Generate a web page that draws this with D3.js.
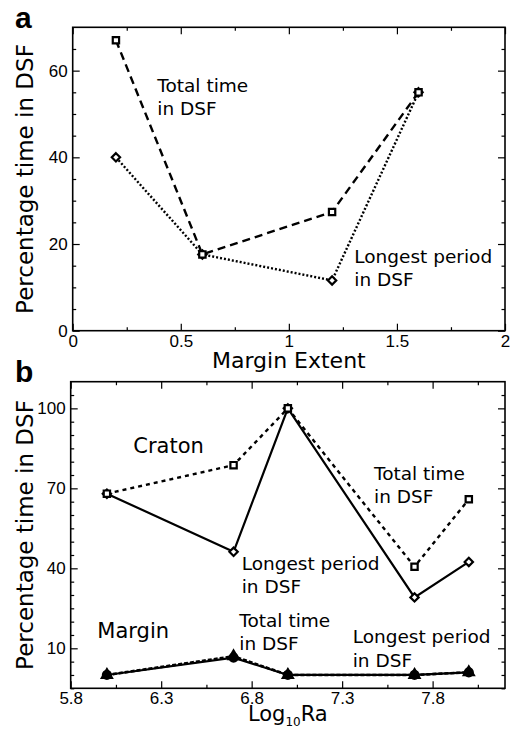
<!DOCTYPE html>
<html>
<head>
<meta charset="utf-8">
<script src="https://cdn.jsdelivr.net/npm/d3@7"></script>
<style>
	body { margin: 0; background: #fff; }
	svg { display: block; }
</style>
</head>
<body>
<script>

// panel a
const marginExtent = [0.2, 0.6, 1.2, 1.6];
const aTotal = [67, 17.6, 27.4, 55];
const aLongest = [40, 17.6, 11.6, 55];
const aXTicks = [0, 0.5, 1, 1.5, 2];
const aYTicks = [0, 20, 40, 60];

// panel b
const log10Ra = [6.0, 6.7, 7.0, 7.7, 8.0];
const cratonTotal = [68, 78.7, 100, 40.6, 65.9];
const cratonLongest = [68, 46.2, 100, 29.1, 42.4];
const marginTotal = [0, 7, 0, 0, 1];
const marginLongest = [0, 6.5, 0, 0, 1];
const bXTicks = [5.8, 6.3, 6.8, 7.3, 7.8];
const bYTicks = [10, 40, 70, 100];

let width = 510,
		height = 733,
		black = '#000',
		tickFont = '"Liberation Sans", Arial, sans-serif',
		textFont = '"DejaVu Sans", sans-serif';

let svg = d3.select('body').append('svg')
		.attr('width', width)
		.attr('height', height);

function frame(x, y, xMajor, xMinor, yMajor, yMinor, xFmt, yFmt) {
	let g = svg.append('g');
	let [x0, x1] = x.range(), [y0, y1] = y.range();

	let axes = [
		{ fn: d3.axisBottom, s: x, t: `translate(0,${y0})`, major: xMajor, minor: xMinor, fmt: xFmt },
		{ fn: d3.axisTop, s: x, t: `translate(0,${y1})`, major: xMajor, minor: xMinor, fmt: null },
		{ fn: d3.axisLeft, s: y, t: `translate(${x0},0)`, major: yMajor, minor: yMinor, fmt: yFmt },
		{ fn: d3.axisRight, s: y, t: `translate(${x1},0)`, major: yMajor, minor: yMinor, fmt: null }
	];

	axes.forEach(a => {
		g.append('g')
				.attr('transform', a.t)
				.call(a.fn(a.s).tickValues(a.minor).tickSize(-3.5).tickFormat(''))
				.call(s => s.select('.domain').remove());
		g.append('g')
				.attr('transform', a.t)
				.call(a.fn(a.s).tickValues(a.major).tickSize(-7).tickPadding(a.fn === d3.axisLeft ? 5 : 4)
						.tickFormat(a.fmt ? a.fmt : ''))
				.call(s => s.select('.domain').remove());
	});

	g.selectAll('line').attr('stroke', black).attr('stroke-width', 1.2);
	g.selectAll('text')
			.attr('fill', black)
			.style('font-family', tickFont)
			.style('font-size', '17px');

	g.append('rect')
			.attr('x', x0)
			.attr('y', y1)
			.attr('width', x1 - x0)
			.attr('height', y0 - y1)
			.attr('fill', 'none')
			.attr('stroke', black)
			.attr('stroke-width', 1.6);
	return g;
}

function series(xs, ys, x, y, dash, width) {
	let line = d3.line().x((d, i) => x(xs[i])).y(d => y(d));
	svg.append('path')
			.datum(ys)
			.attr('d', line)
			.attr('fill', 'none')
			.attr('stroke', black)
			.attr('stroke-width', width || 2)
			.attr('stroke-dasharray', dash);
}

function markers(xs, ys, x, y, type, size, fill) {
	svg.append('g').selectAll('path')
			.data(ys)
			.join('path')
			.attr('transform', (d, i) => `translate(${x(xs[i])},${y(d)})`)
			.attr('d', d3.symbol().type(type).size(size))
			.attr('fill', fill || '#fff')
			.attr('stroke', black)
			.attr('stroke-width', 2.2);
}

function label(lines, px, py, size, font) {
	let t = svg.append('text')
			.attr('fill', black)
			.style('font-family', font || textFont)
			.style('font-size', size + 'px');
	lines.forEach((l, i) => {
		t.append('tspan').attr('x', px).attr('y', py + i * 23.3).text(l);
	});
	return t;
}

let diamond = d3.symbolDiamond2 || d3.symbolDiamond;

// ---- panel a
let xa = d3.scaleLinear().domain([0, 2]).range([72.7, 505]);
let ya = d3.scaleLinear().domain([0, 70]).range([330.7, 27.3]);

frame(xa, ya, aXTicks, d3.range(0.25, 2, 0.5), aYTicks, d3.range(5, 70, 5).filter(v => v % 20),
		d3.format(''), d3.format(''));

series(marginExtent, aTotal, xa, ya, '8,5', 2.4);
series(marginExtent, aLongest, xa, ya, '2,2', 2.4);
markers(marginExtent, aLongest, xa, ya, diamond, 44);
markers(marginExtent, aTotal, xa, ya, d3.symbolSquare, 40);

label(['Total time', 'in DSF'], 157.3, 91.7, 18.5, textFont);
label(['Longest period', 'in DSF'], 354.3, 262.7, 18.5, textFont);

svg.append('text')
		.attr('transform', `translate(33,${(27.3 + 330.7) / 2}) rotate(-90)`)
		.attr('text-anchor', 'middle')
		.style('font-family', textFont)
		.style('font-size', '23px')
		.text('Percentage time in DSF');

svg.append('text')
		.attr('x', (72.7 + 505) / 2)
		.attr('y', 368)
		.attr('text-anchor', 'middle')
		.style('font-family', textFont)
		.style('font-size', '22px')
		.text('Margin Extent');

svg.append('text')
		.attr('x', 15)
		.attr('y', 28)
		.style('font-family', tickFont)
		.style('font-weight', 'bold')
		.style('font-size', '30px')
		.text('a');

// ---- panel b
let xb = d3.scaleLinear().domain([5.8, 8.2]).range([70.7, 505]);
let yb = d3.scaleLinear().domain([-5, 110]).range([688.3, 381.7]);

let bMinorX = d3.range(6.05, 8.2, 0.5);
let bMinorY = d3.range(-5, 110, 5).filter(v => !bYTicks.includes(v));

frame(xb, yb, bXTicks, bMinorX, bYTicks, bMinorY, d3.format('.1f'), d3.format(''));

series(log10Ra, cratonTotal, xb, yb, '4,4', 2.4);
series(log10Ra, cratonLongest, xb, yb, null, 2.2);
series(log10Ra, marginLongest, xb, yb, null, 2.2);
series(log10Ra, marginTotal, xb, yb, '4,2', 2.6);

markers(log10Ra, cratonLongest, xb, yb, diamond, 44);
markers(log10Ra, cratonTotal, xb, yb, d3.symbolSquare, 40);
markers(log10Ra, marginTotal, xb, yb, d3.symbolTriangle, 44, black);
markers(log10Ra, marginLongest, xb, yb, d3.symbolCircle, 50, black);

label(['Craton'], 133.3, 453, 21, textFont);
label(['Total time', 'in DSF'], 374, 480, 18.5, textFont);
label(['Longest period', 'in DSF'], 241.7, 570, 18.5, textFont);
label(['Margin'], 97.3, 638.3, 21, textFont);
label(['Total time', 'in DSF'], 239.3, 626.7, 18.5, textFont);
label(['Longest period', 'in DSF'], 352.7, 643.3, 18.5, textFont);

svg.append('text')
		.attr('transform', `translate(33,${(381.7 + 688.3) / 2}) rotate(-90)`)
		.attr('text-anchor', 'middle')
		.style('font-family', textFont)
		.style('font-size', '23px')
		.text('Percentage time in DSF');

let xt = svg.append('text')
		.attr('x', (70.7 + 505) / 2)
		.attr('y', 721)
		.attr('text-anchor', 'middle')
		.style('font-family', textFont)
		.style('font-size', '21px');
xt.append('tspan').text('Log');
xt.append('tspan').attr('dy', 5).style('font-size', '12px').text('10');
xt.append('tspan').attr('dy', -5).text('Ra');

svg.append('text')
		.attr('x', 15)
		.attr('y', 381.7)
		.style('font-family', tickFont)
		.style('font-weight', 'bold')
		.style('font-size', '30px')
		.text('b');

</script>
</body>
</html>
